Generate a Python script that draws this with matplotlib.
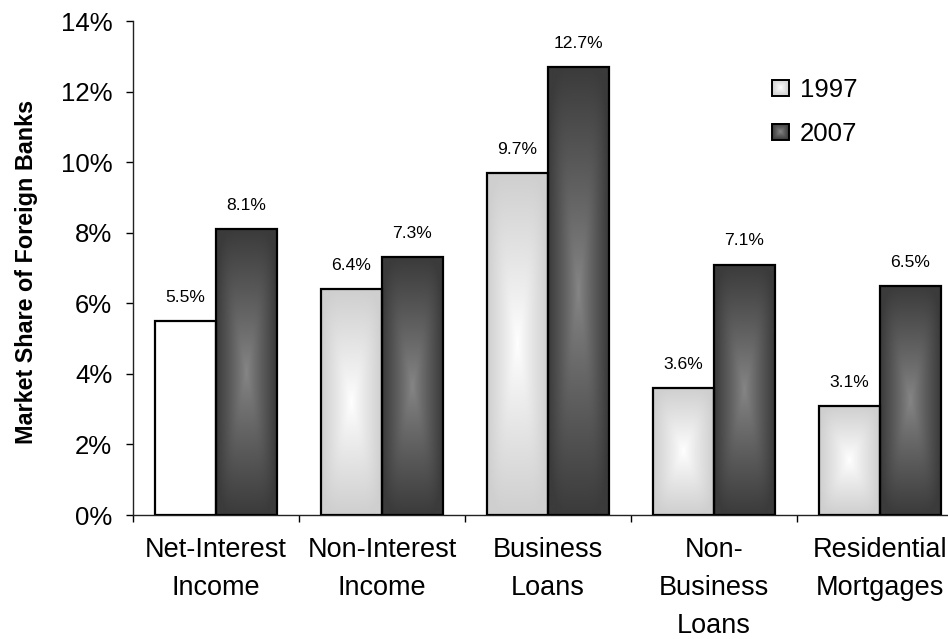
import numpy as np
import matplotlib
matplotlib.use("Agg")
import matplotlib.pyplot as plt
from matplotlib.colors import LinearSegmentedColormap
from matplotlib.patches import Rectangle
from matplotlib.image import BboxImage
from matplotlib.transforms import Bbox, TransformedBbox
from matplotlib.legend_handler import HandlerBase
from matplotlib.ticker import FuncFormatter

plt.rcParams['font.family'] = ['Liberation Sans', 'DejaVu Sans']

categories = ["Net-Interest\nIncome", "Non-Interest\nIncome", "Business\nLoans",
              "Non-\nBusiness\nLoans", "Residential\nMortgages"]
share_1997 = [5.5, 6.4, 9.7, 3.6, 3.1]
share_2007 = [8.1, 7.3, 12.7, 7.1, 6.5]
years = ["1997", "2007"]

light = LinearSegmentedColormap.from_list("light", ["#ffffff", "#cfcfcf"])
dark = LinearSegmentedColormap.from_list("dark", ["#868686", "#3b3b3b"])


def box_gradient(nx=80, ny=240, p=5.0, power=0.9):
    # rounded rectangular gradient: 0 in the middle, 1 along the edges
    u = np.abs(np.linspace(-1, 1, nx))
    v = np.abs(np.linspace(-1, 1, ny))
    t = (u[None, :] ** p + v[:, None] ** p) ** (1 / p)
    return np.clip(t, 0, 1) ** power


class GradientHandler(HandlerBase):
    def __init__(self, cmap):
        super().__init__()
        self.cmap = cmap

    def create_artists(self, legend, orig_handle, xdescent, ydescent,
                       width, height, fontsize, trans):
        side = min(width, height)
        x0 = -xdescent
        y0 = -ydescent + (height - side) / 2
        bbox = TransformedBbox(Bbox.from_bounds(x0, y0, side, side), trans)
        img = BboxImage(bbox, cmap=self.cmap, norm=plt.Normalize(0, 1),
                        interpolation="bilinear")
        img.set_data(box_gradient(40, 40))
        frame = Rectangle((x0, y0), side, side, facecolor="none",
                          edgecolor="black", linewidth=1.4, transform=trans)
        return [img, frame]


fig = plt.figure(figsize=(9.48, 6.39), dpi=100)
ax = fig.add_axes([0.1403, 0.194, 0.8755, 0.773])

width = 0.367
centers = np.arange(len(categories)) + 0.5
grad = box_gradient()

bars_a = ax.bar(centers - width / 2, share_1997, width, facecolor="none",
                edgecolor="black", linewidth=1.6, zorder=3)
bars_b = ax.bar(centers + width / 2, share_2007, width, facecolor="none",
                edgecolor="black", linewidth=1.6, zorder=3)

for i, (bar, val) in enumerate(zip(bars_a, share_1997)):
    x0 = bar.get_x()
    if i == 0:
        # first bar is left plain white
        ax.add_patch(Rectangle((x0, 0), width, val, facecolor="white", zorder=2))
        continue
    im = ax.imshow(grad, cmap=light, vmin=0, vmax=1, aspect="auto",
                   extent=[x0, x0 + width, 0, val], zorder=2,
                   interpolation="bilinear")
    im.set_clip_path(bar)

for bar, val in zip(bars_b, share_2007):
    x0 = bar.get_x()
    im = ax.imshow(grad, cmap=dark, vmin=0, vmax=1, aspect="auto",
                   extent=[x0, x0 + width, 0, val], zorder=2,
                   interpolation="bilinear")
    im.set_clip_path(bar)

for bars, vals in ((bars_a, share_1997), (bars_b, share_2007)):
    for bar, val in zip(bars, vals):
        ax.annotate(f"{val:.1f}%", (bar.get_x() + width / 2, val),
                    xytext=(0, 17), textcoords="offset points",
                    ha="center", va="center", fontsize=12.6, zorder=4)

ax.set_xlim(0, len(categories))
ax.set_ylim(0, 14)
ax.set_yticks(np.arange(0, 15, 2))
ax.yaxis.set_major_formatter(FuncFormatter(lambda y, _: f"{y:.0f}%"))
ax.tick_params(axis="y", direction="out", length=5, width=1, pad=10,
               labelsize=18.5)

# group boundaries get the tick marks, names sit under the group centres
ax.set_xticks(np.arange(len(categories) + 1))
ax.set_xticklabels([])
ax.set_xticks(centers, minor=True)
ax.set_xticklabels(categories, minor=True, fontsize=19.5, linespacing=1.6)
ax.tick_params(axis="x", which="major", direction="out", length=5, width=1)
ax.tick_params(axis="x", which="minor", length=0, pad=16)

for side in ("top", "right"):
    ax.spines[side].set_visible(False)
for side in ("left", "bottom"):
    ax.spines[side].set_linewidth(1)
    ax.spines[side].set_color("#222222")

ax.set_ylabel("Market Share of Foreign Banks", fontsize=16.8, fontweight="bold")
ax.yaxis.set_label_coords(-0.1145, 0.492)

h1 = Rectangle((0, 0), 1, 1)
h2 = Rectangle((0, 0), 1, 1)
ax.legend([h1, h2], years, loc="upper left", bbox_to_anchor=(0.8143, 0.878),
          bbox_transform=fig.transFigure, frameon=False, fontsize=18.5,
          handlelength=0.65, handleheight=0.65, handletextpad=0.45,
          labelspacing=0.78, borderpad=0, borderaxespad=0,
          handler_map={h1: GradientHandler(light), h2: GradientHandler(dark)})

fig.savefig("out.png", dpi=100)
